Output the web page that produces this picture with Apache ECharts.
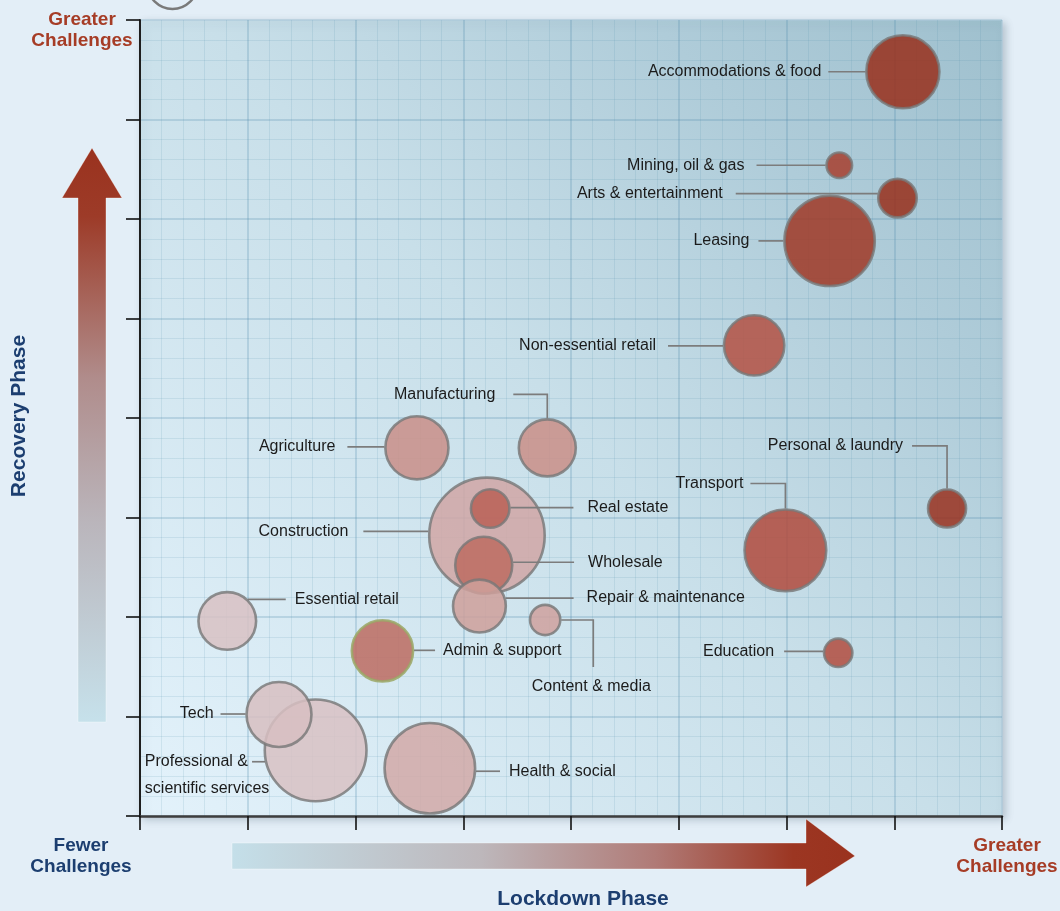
<!DOCTYPE html>
<html>
<head>
<meta charset="utf-8">
<script src="https://cdn.jsdelivr.net/npm/echarts@6/dist/echarts.min.js"></script>
<style>
html,body{margin:0;padding:0;background:#e3eef7;}
#chart{width:1060px;height:911px;}
</style>
</head>
<body>
<div id="chart"></div>
<script>
// ---------------- DATA ----------------
const sectors = [
  'Accommodations & food', 'Mining, oil & gas', 'Arts & entertainment', 'Leasing',
  'Non-essential retail', 'Manufacturing', 'Agriculture', 'Construction',
  'Real estate', 'Wholesale', 'Repair & maintenance', 'Content & media',
  'Admin & support', 'Essential retail', 'Tech', 'Professional &\nscientific services',
  'Health & social', 'Transport', 'Personal & laundry', 'Education'
];
// Lockdown-phase challenge score (x)
const lockdown = [7.08, 6.49, 7.03, 6.40, 5.70, 3.78, 2.57, 3.22, 3.25, 3.19, 3.15, 3.76, 2.25, 0.81, 1.29, 1.63, 2.69, 5.99, 7.49, 6.48];
// Recovery-phase challenge score (y)
const recovery = [7.48, 6.54, 6.21, 5.78, 4.73, 3.70, 3.70, 2.82, 3.09, 2.52, 2.11, 1.97, 1.66, 1.96, 1.02, 0.66, 0.48, 2.67, 3.09, 1.64];
// Bubble size (employment weight)
const employment = [14.1, 1.9, 4.1, 21.3, 9.7, 8.7, 10.6, 34.5, 4.1, 8.7, 7.5, 2.6, 10.0, 8.9, 11.2, 26.9, 21.4, 17.5, 4.0, 2.3];
// Overall severity (colour)
const severity = [1.0, 0.88, 1.0, 0.93, 0.75, 0.4, 0.4, 0.22, 0.66, 0.6, 0.28, 0.26, 0.6, 0.0, 0.02, 0.0, 0.2, 0.78, 0.98, 0.77];
// Axis ticks (no numeric labels shown)
const axisMin = 0, axisMax = 8, axisStep = 1;
const lowEndLabel = 'Fewer\nChallenges';
const highEndLabel = 'Greater\nChallenges';
const xTitle = 'Lockdown Phase';
const yTitle = 'Recovery Phase';

// ---------------- LAYOUT / STYLE ----------------
const FONT = '"Liberation Sans", Arial, Helvetica, sans-serif';
const RED = '#a63c26';
const BLUE = '#1c3e70';
const radiusOf = s => 10 * Math.sqrt(s);

// leader-line layout per sector (pixel offsets relative to bubble)
const LEADER = {
  'Accommodations & food': {type: 'left', dy: 0, len: 37, gap: 7},
  'Mining, oil & gas': {type: 'left', dy: 0, len: 69, gap: 12},
  'Arts & entertainment': {type: 'left', dy: -4.5, len: 142, gap: 13},
  'Leasing': {type: 'left', dy: 0, len: 25, gap: 9},
  'Non-essential retail': {type: 'left', dy: 0.5, len: 55, gap: 12},
  'Manufacturing': {type: 'upLeft', h: 24, w: 34, gap: 18},
  'Agriculture': {type: 'left', dy: -1, len: 37, gap: 12},
  'Construction': {type: 'left', dy: -4, len: 65, gap: 15},
  'Real estate': {type: 'right', dy: -1, len: 63, gap: 14},
  'Wholesale': {type: 'right', dy: -3, len: 61, gap: 14},
  'Repair & maintenance': {type: 'right', dy: -8, len: 68, gap: 13},
  'Content & media': {type: 'rightDown', w: 32, h: 47},
  'Admin & support': {type: 'right', dy: -0.5, len: 21, gap: 8},
  'Essential retail': {type: 'right', dy: -21.7, len: 38, gap: 9},
  'Tech': {type: 'left', dy: -0.5, len: 25, gap: 7},
  'Professional &\nscientific services': {type: 'left', dy: 11.4, len: 13, gap: 4, multi: true},
  'Health & social': {type: 'right', dy: 3, len: 24, gap: 9},
  'Transport': {type: 'upLeft', h: 25, w: 35, gap: 7},
  'Personal & laundry': {type: 'upLeft', h: 42.6, w: 35, gap: 9},
  'Education': {type: 'left', dy: -1.5, len: 39, gap: 10}
};
const SPECIAL_BORDER = {'Admin & support': '#9ba866'};

const measureCtx = document.createElement('canvas').getContext('2d');
function textWidth(t, font) { measureCtx.font = font; return measureCtx.measureText(t).width; }
const LABEL_FONT = '16px ' + FONT;

// build data: larger bubbles first so smaller ones sit on top
const order = sectors.map((_, i) => i).sort((a, b) => employment[b] - employment[a]);
const bubbleData = order.map(i => {
  const item = {name: sectors[i], value: [lockdown[i], recovery[i], employment[i], severity[i]]};
  if (SPECIAL_BORDER[sectors[i]]) item.itemStyle = {borderColor: SPECIAL_BORDER[sectors[i]]};
  return item;
});
const labelData = sectors.map((_, i) => [lockdown[i], recovery[i], employment[i], i]);

function renderLeader(params, api) {
  const i = api.value(3);
  const name = sectors[i];
  const cfg = LEADER[name];
  const c = api.coord([api.value(0), api.value(1)]);
  const r = radiusOf(api.value(2));
  let pts, tx, ty, align = 'left', vAlign = 'middle', text = name, lineHeight = 18;
  if (cfg.type === 'left' || cfg.type === 'right') {
    const sgn = cfg.type === 'left' ? -1 : 1;
    const dy = cfg.dy || 0;
    const ex = Math.sqrt(Math.max(r * r - dy * dy, 0));
    const y = c[1] + dy;
    const x0 = c[0] + sgn * ex;
    const x1 = x0 + sgn * cfg.len;
    pts = [[x0, y], [x1, y]];
    tx = x1 + sgn * cfg.gap; ty = y;
    align = sgn < 0 ? 'right' : 'left';
    if (cfg.multi) {
      const first = name.split('\n')[0];
      tx = tx - textWidth(first, LABEL_FONT);
      align = 'left'; vAlign = 'top'; lineHeight = 27; ty = y - 13.5;
    }
  } else if (cfg.type === 'upLeft') {
    const top = c[1] - r;
    const y = top - cfg.h;
    const xe = c[0] - cfg.w;
    pts = [[c[0], top], [c[0], y], [xe, y]];
    tx = xe - cfg.gap; ty = y; align = 'right';
  } else {
    const x0 = c[0] + r, x1 = x0 + cfg.w, y1 = c[1] + cfg.h;
    pts = [[x0, c[1]], [x1, c[1]], [x1, y1]];
    tx = x1 - 2; ty = y1 + 20; align = 'center';
  }
  return {
    type: 'group',
    children: [
      {type: 'polyline', shape: {points: pts}, style: {stroke: '#7c7c7c', lineWidth: 1.7, fill: null}},
      {type: 'text', x: tx, y: ty, style: {text: text, font: LABEL_FONT, fill: '#1b1b1b', align: align, verticalAlign: vAlign, lineHeight: lineHeight}}
    ]
  };
}

const chart = echarts.init(document.getElementById('chart'), null, {renderer: 'canvas'});

const gridLeft = 140, gridTop = 20, gridRight = 58, gridBottom = 95;

const option = {
  backgroundColor: '#e3eef7',
  animation: false,
  grid: {
    left: gridLeft, top: gridTop, right: gridRight, bottom: gridBottom,
    show: true,
    backgroundColor: {
      type: 'linear', x: 0, y: 1, x2: 1, y2: 0,
      colorStops: [
        {offset: 0, color: '#e3f2fb'},
        {offset: 0.5, color: '#c8dfe9'},
        {offset: 0.78, color: '#afccd9'},
        {offset: 1, color: '#9fc0ce'}
      ]
    },
    borderColor: 'rgba(235,244,250,0.9)',
    borderWidth: 1,
    shadowBlur: 8,
    shadowColor: 'rgba(40,60,80,0.25)',
    shadowOffsetX: 3,
    shadowOffsetY: 3
  },
  xAxis: {
    type: 'value', min: axisMin, max: axisMax, interval: axisStep,
    axisLine: {show: true, onZero: false, lineStyle: {color: '#3d3d3d', width: 2.5}},
    axisTick: {show: true, length: 14, lineStyle: {color: '#111', width: 1.6}},
    axisLabel: {show: false},
    splitLine: {show: true, lineStyle: {color: 'rgba(80,140,170,0.24)', width: 2}},
    minorTick: {show: false, splitNumber: 5},
    minorSplitLine: {show: true, lineStyle: {color: 'rgba(80,140,170,0.14)', width: 1}}
  },
  yAxis: {
    type: 'value', min: axisMin, max: axisMax, interval: axisStep,
    axisLine: {show: true, onZero: false, lineStyle: {color: '#1e1e1e', width: 2}},
    axisTick: {show: true, length: 14, lineStyle: {color: '#111', width: 1.6}},
    axisLabel: {show: false},
    splitLine: {show: true, lineStyle: {color: 'rgba(80,140,170,0.24)', width: 2}},
    minorTick: {show: false, splitNumber: 5},
    minorSplitLine: {show: true, lineStyle: {color: 'rgba(80,140,170,0.14)', width: 1}}
  },
  visualMap: {
    show: false, type: 'continuous', seriesIndex: 0, dimension: 3, min: 0, max: 1,
    inRange: {color: ['#d8c1c4', '#d2aaa8', '#c98f88', '#bd6c62', '#b0493a', '#98301c']}
  },
  series: [
    {
      type: 'scatter',
      data: bubbleData,
      symbolSize: v => 2 * radiusOf(v[2]) - 2,
      itemStyle: {opacity: 0.86, borderColor: 'rgba(120,120,120,0.95)', borderWidth: 2.6},
      emphasis: {disabled: true},
      z: 2
    },
    {
      type: 'custom',
      coordinateSystem: 'cartesian2d',
      data: labelData,
      renderItem: renderLeader,
      silent: true,
      clip: false,
      z: 3
    }
  ],
  graphic: [
    {type: 'circle', shape: {cx: 172.5, cy: -16, r: 25}, style: {fill: null, stroke: '#7a7a7a', lineWidth: 2.5}, silent: true},
    {
      type: 'polygon', silent: true,
      shape: {points: [[92, 148], [122, 198], [106, 198], [106, 722], [78, 722], [78, 198], [62, 198]]},
      style: {
        fill: {type: 'linear', x: 0, y: 0, x2: 0, y2: 1, colorStops: [
          {offset: 0, color: '#9a321e'}, {offset: 0.12, color: '#9d3b28'},
          {offset: 0.4, color: '#b08c8b'}, {offset: 0.65, color: '#bab5bb'},
          {offset: 1, color: '#c6e1eb'}]},
        stroke: 'rgba(255,255,255,0.35)', lineWidth: 1
      }
    },
    {
      type: 'polygon', silent: true,
      shape: {points: [[232, 843], [806, 843], [806, 819], [855, 856], [806, 887], [806, 869], [232, 869]]},
      style: {
        fill: {type: 'linear', x: 0, y: 0, x2: 1, y2: 0, colorStops: [
          {offset: 0, color: '#c4dfe9'}, {offset: 0.4, color: '#bdb7bb'},
          {offset: 0.68, color: '#b07a76'}, {offset: 0.9, color: '#9c3622'},
          {offset: 1, color: '#9a321e'}]},
        stroke: 'rgba(255,255,255,0.35)', lineWidth: 1
      }
    },
    {type: 'text', x: 82, y: 30, silent: true, style: {text: highEndLabel, font: 'bold 19px ' + FONT, fill: RED, align: 'center', verticalAlign: 'middle', lineHeight: 21}},
    {type: 'text', x: 81, y: 856, silent: true, style: {text: lowEndLabel, font: 'bold 19px ' + FONT, fill: BLUE, align: 'center', verticalAlign: 'middle', lineHeight: 21}},
    {type: 'text', x: 1007, y: 856, silent: true, style: {text: highEndLabel, font: 'bold 19px ' + FONT, fill: RED, align: 'center', verticalAlign: 'middle', lineHeight: 21}},
    {type: 'text', x: 583, y: 899, silent: true, style: {text: xTitle, font: 'bold 21px ' + FONT, fill: BLUE, align: 'center', verticalAlign: 'middle'}},
    {type: 'text', x: 19, y: 416, rotation: Math.PI / 2, silent: true, style: {text: yTitle, font: 'bold 21px ' + FONT, fill: BLUE, align: 'center', verticalAlign: 'middle'}}
  ]
};
chart.setOption(option);
</script>
</body>
</html>
